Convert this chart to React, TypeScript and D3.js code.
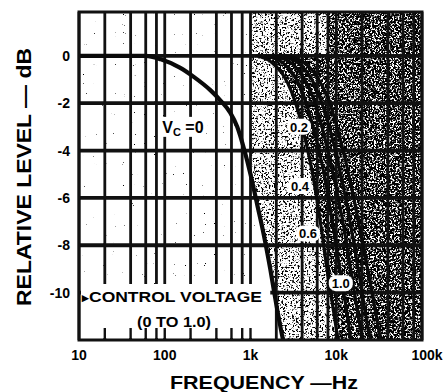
import React from 'react';
import * as d3 from 'd3';

// level vs frequency, one curve per control voltage
const vc0: [number, number][] = [
  [10, 0], [60, 0], [90, -0.15], [150, -0.5], [220, -0.9], [340, -1.45], [450, -1.9],
  [580, -2.4], [700, -3], [850, -4], [1000, -5], [1200, -6.3], [1400, -7.4],
  [1700, -9], [2000, -10.5], [2400, -12], [2600, -12.5],
];
const vc02: [number, number][] = [
  [1200, 0], [1800, -0.3], [2400, -0.8], [3000, -1.5], [3700, -2.5], [4400, -3.6],
  [5300, -5], [6400, -6.8], [7800, -9], [9500, -11], [11000, -12.5],
];
const vc04: [number, number][] = [
  [1500, 0], [2400, -0.3], [3200, -0.8], [4100, -1.6], [5100, -2.7], [6200, -3.9],
  [7400, -5.2], [9000, -7], [11000, -9], [13500, -11], [15500, -12.5],
];
const vc06: [number, number][] = [
  [1800, 0], [3000, -0.3], [4100, -0.9], [5300, -1.7], [6700, -2.9], [8200, -4.2],
  [10000, -5.6], [12200, -7.2], [15000, -9.2], [18500, -11.2], [21500, -12.5],
];
const vc08: [number, number][] = [
  [2200, 0], [3600, -0.3], [5000, -0.9], [6500, -1.8], [8300, -3], [10200, -4.3],
  [12500, -5.8], [15500, -7.6], [19000, -9.5], [23500, -11.5], [27000, -12.5],
];
const vc10: [number, number][] = [
  [2600, 0], [4300, -0.3], [6000, -0.9], [8000, -1.8], [10200, -3], [12800, -4.4],
  [16000, -6], [20000, -7.8], [25000, -9.6], [31000, -11.5], [35000, -12.5],
];

const yTicks = [0, -2, -4, -6, -8, -10];
const xTicks = [10, 100, 1000, 10000, 100000];
const xTickLabels = ['10', '100', '1k', '10k', '100k'];
const gridMultiples = [2, 4, 6, 8];

// curve labels: text and where they sit (freq, dB)
const curveLabels = ['0.2', '0.4', '0.6', '1.0'];
const curveLabelAt: [number, number][] = [[3680, -3], [3780, -5.5], [4680, -7.5], [11300, -9.6]];

const W = 444;
const H = 392;
const FONT = '"Liberation Sans", Arial, sans-serif';

export default function App() {
  const x = d3.scaleLog().domain([10, 100000]).range([79, 422]);
  const y = d3.scaleLinear().domain([1.85, -12]).range([12, 340]);
  const [x0, x1] = x.range();
  const [yTop, yBot] = y.range();

  const line = d3
    .line<[number, number]>()
    .x((d) => x(d[0]))
    .y((d) => y(d[1]))
    .curve(d3.curveMonotoneX);

  // vertical grid values
  const grid: number[] = [];
  xTicks.slice(0, -1).forEach((dec) => {
    grid.push(dec);
    gridMultiples.forEach((m) => grid.push(dec * m));
  });
  grid.push(100000);

  // box holding the control voltage note (bottom left)
  const boxRight = x(1700);
  const boxTop = 284;

  // stippled areas
  const last0 = vc0[vc0.length - 1];
  const lightPath =
    line(vc0) + `L${x1},${y(last0[1])}L${x1},${yTop}L${x0},${yTop}Z`;
  const last2 = vc02[vc02.length - 1];
  const heavyPath =
    line(vc02) + `L${x1},${y(last2[1])}L${x1},${y(0)}Z`;

  const curves = [vc0, vc02, vc04, vc06, vc08, vc10];

  return (
    <svg width={W} height={H} style={{ position: 'absolute', left: 0, top: 0, background: '#fff' }}>
      <defs>
        <clipPath id="plot">
          <rect x={x0} y={yTop} width={x1 - x0} height={yBot - yTop} />
        </clipPath>
        <clipPath id="right">
          <rect x={x(1000)} y={yTop} width={x1 - x(1000)} height={yBot - yTop} />
        </clipPath>
        <filter id="stipLight" x="0" y="0" width="1" height="1">
          <feTurbulence type="fractalNoise" baseFrequency="0.55" numOctaves="2" seed="4" />
          <feColorMatrix type="matrix" values="0 0 0 0 0  0 0 0 0 0  0 0 0 0 0  -9 0 0 0 4.2" />
          <feComposite in2="SourceAlpha" operator="in" />
        </filter>
        <filter id="stipHeavy" x="0" y="0" width="1" height="1">
          <feTurbulence type="fractalNoise" baseFrequency="0.55" numOctaves="2" seed="9" />
          <feColorMatrix type="matrix" values="0 0 0 0 0  0 0 0 0 0  0 0 0 0 0  -9 0 0 0 5.2" />
          <feComposite in2="SourceAlpha" operator="in" />
        </filter>
        <filter id="specks" x="0" y="0" width="1" height="1">
          <feTurbulence type="fractalNoise" baseFrequency="0.9" numOctaves="1" seed="2" />
          <feColorMatrix type="matrix" values="0 0 0 0 0  0 0 0 0 0  0 0 0 0 0  -16 0 0 0 4.0" />
          <feComposite in2="SourceAlpha" operator="in" />
        </filter>
      </defs>

      {/* faint scan specks over the whole plot */}
      <rect x={x0} y={yTop} width={x1 - x0} height={yBot - yTop} fill="#000" filter="url(#specks)" />

      {/* stippled regions */}
      <g clipPath="url(#right)">
        <path d={lightPath} fill="#000" filter="url(#stipLight)" />
      </g>
      <g clipPath="url(#plot)">
        <path d={heavyPath} fill="#000" filter="url(#stipHeavy)" />
        <rect x={x(8000)} y={yTop} width={x1 - x(8000)} height={y(0) - yTop} fill="#000" filter="url(#stipHeavy)" />
      </g>

      {/* grid */}
      <g stroke="#111">
        {grid.map((g) => (
          <line key={'v' + g} x1={x(g)} x2={x(g)} y1={yTop} y2={yBot} strokeWidth={2.8} />
        ))}
        {yTicks.map((t) => (
          <line key={'h' + t} x1={x0} x2={x1} y1={y(t)} y2={y(t)} strokeWidth={3.8} />
        ))}
      </g>

      {/* control voltage note box */}
      <rect x={x0 + 2} y={boxTop} width={boxRight - x0 - 2} height={yBot - boxTop - 2} fill="#fff" />
      <g stroke="#111" strokeWidth={2.4}>
        {grid
          .filter((g) => x(g) < boxRight && g > 10)
          .map((g) => (
            <line key={'t' + g} x1={x(g)} x2={x(g)} y1={yBot - 12} y2={yBot} />
          ))}
      </g>

      {/* curves */}
      <g clipPath="url(#plot)" fill="none" stroke="#0a0a0a" strokeLinecap="round">
        {curves.map((c, i) => (
          <path key={i} d={line(c) || ''} strokeWidth={i === 0 ? 4.2 : 3.2} />
        ))}
      </g>

      {/* border */}
      <rect x={x0} y={yTop} width={x1 - x0} height={yBot - yTop} fill="none" stroke="#111" strokeWidth={3} />

      {/* curve labels */}
      <g fontFamily={FONT} fontWeight="bold" fontSize={13} textAnchor="middle">
        {curveLabels.map((l, i) => {
          const [f, db] = curveLabelAt[i];
          return (
            <g key={l} transform={`translate(${x(f)},${y(db)})`}>
              <rect x={-12} y={-8} width={24} height={16} rx={7} fill="#fff" />
              <text y={5}>{l}</text>
            </g>
          );
        })}
        <g transform={`translate(${x(163)},${y(-3)})`}>
          <rect x={-23} y={-10} width={46} height={20} fill="#fff" />
          <text y={6} fontSize={16} textAnchor="middle">
            V<tspan fontSize={11} dy={3}>C</tspan>
            <tspan dy={-3}> =0</tspan>
          </text>
        </g>
      </g>

      {/* control voltage note */}
      <g fontFamily={FONT} fontWeight="bold" fill="#000">
        <text x={x0 + 3} y={302} fontSize={13}>▸</text>
        <text x={x0 + 10} y={302} fontSize={14} textLength={173} lengthAdjust="spacingAndGlyphs">
          CONTROL VOLTAGE
        </text>
        <text x={174} y={327} fontSize={14} textAnchor="middle" textLength={74} lengthAdjust="spacingAndGlyphs">
          (0 TO 1.0)
        </text>
      </g>

      {/* y tick labels */}
      <g fontFamily={FONT} fontWeight="bold" fontSize={14} textAnchor="end">
        {yTicks.map((t) => (
          <text key={t} x={70} y={y(t) + 5}>
            {t === 0 ? '0' : '-' + Math.abs(t)}
          </text>
        ))}
      </g>

      {/* x tick labels */}
      <g fontFamily={FONT} fontWeight="bold" fontSize={14} textAnchor="middle">
        {xTicks.map((t, i) => (
          <text key={t} x={x(t) + (i === 4 ? 5 : 0)} y={360}>
            {xTickLabels[i]}
          </text>
        ))}
      </g>

      {/* axis titles */}
      <text
        transform="translate(31,177) rotate(-90)"
        fontFamily={FONT}
        fontSize={20}
        fontWeight="bold"
        textAnchor="middle"
        textLength={258}
        lengthAdjust="spacingAndGlyphs"
      >
        RELATIVE LEVEL — dB
      </text>
      <text
        x={264}
        y={389}
        fontFamily={FONT}
        fontSize={18}
        fontWeight="bold"
        textAnchor="middle"
        textLength={188}
        lengthAdjust="spacingAndGlyphs"
      >
        FREQUENCY —Hz
      </text>
    </svg>
  );
}
